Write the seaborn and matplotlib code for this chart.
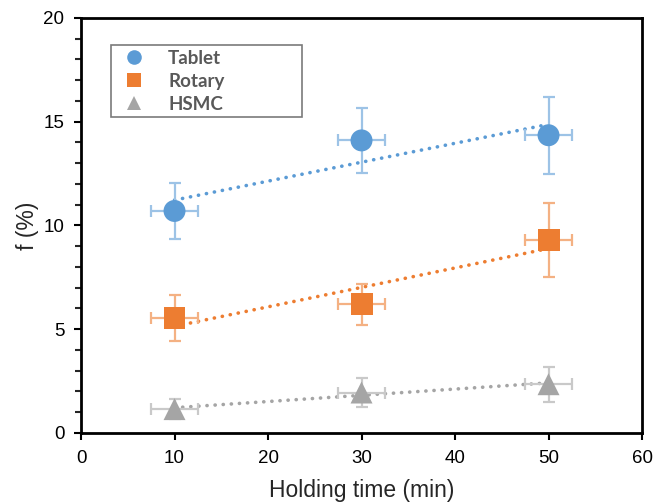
import numpy as np
import pandas as pd
import matplotlib
matplotlib.use("Agg")
import matplotlib.pyplot as plt
from matplotlib.ticker import MultipleLocator
from matplotlib.lines import Line2D
import seaborn as sns

# Holding time (min) and measured f (%) with standard deviations
holding_time = [10, 30, 50]
time_err = [2.5, 2.5, 2.5]

tablet = [10.7, 14.1, 14.35]
tablet_err = [1.35, 1.55, 1.85]
rotary = [5.55, 6.2, 9.3]
rotary_err = [1.1, 1.0, 1.8]
hsmc = [1.15, 1.95, 2.35]
hsmc_err = [0.5, 0.7, 0.85]

series_names = ["Tablet", "Rotary", "HSMC"]
series_colors = ["#5B9BD5", "#ED7D31", "#A5A5A5"]
err_colors = ["#9DC3E6", "#F4B183", "#C9C9C9"]
series_markers = ["o", "s", "^"]

sns.set_theme(style="ticks")
plt.rcParams["font.family"] = ["Liberation Sans", "DejaVu Sans"]

fig = plt.figure(figsize=(6.56, 5.04), dpi=100)
ax = fig.add_axes([0.1235, 0.1409, 0.9787 - 0.1235, 0.9643 - 0.1409])

values = [tablet, rotary, hsmc]
errors = [tablet_err, rotary_err, hsmc_err]

rows = []
for name, vals in zip(series_names, values):
    for t, v in zip(holding_time, vals):
        rows.append({"time": t, "f": v, "series": name})
df = pd.DataFrame(rows)

for name, vals, errs, col, ecol in zip(series_names, values, errors, series_colors, err_colors):
    sub = df[df["series"] == name]
    # linear trend line, round dots
    sns.regplot(data=sub, x="time", y="f", ax=ax, ci=None, scatter=False,
                truncate=True,
                line_kws=dict(color=col, ls=(0, (0.05, 2.2)), lw=2.6,
                              dash_capstyle="round", zorder=2))
    ax.errorbar(holding_time, vals, yerr=errs, xerr=time_err, fmt="none",
                ecolor=ecol, elinewidth=1.6, capsize=4, capthick=1.6, zorder=3)

sns.scatterplot(data=df, x="time", y="f", hue="series", style="series",
                hue_order=series_names, style_order=series_names,
                palette=series_colors, markers=series_markers, s=250,
                edgecolor="none", linewidth=0, legend=False, ax=ax, zorder=4)

ax.set_xlim(0, 60)
ax.set_ylim(0, 20)
ax.xaxis.set_major_locator(MultipleLocator(10))
ax.yaxis.set_major_locator(MultipleLocator(5))
ax.yaxis.set_minor_locator(MultipleLocator(1))
ax.tick_params(axis="both", which="major", direction="out", length=5, width=1.5,
               labelsize=13.5, colors="black", pad=7)
ax.tick_params(axis="y", which="minor", direction="out", length=4, width=1.5)
for sp in ax.spines.values():
    sp.set_visible(True)
    sp.set_linewidth(2)
    sp.set_color("black")

ax.set_xlabel("Holding time (min)", fontsize=16.5, labelpad=9)
ax.set_ylabel("f (%)", fontsize=16.5, labelpad=3)

handles = [Line2D([], [], ls="none", marker=m, color=c, markersize=10.5,
                  markeredgewidth=0)
           for m, c in zip(series_markers, series_colors)]
leg = ax.legend(handles, series_names, loc="upper left",
                bbox_to_anchor=(0.0535, 0.935 - 0.174, 0.34, 0.174),
                mode="expand", borderaxespad=0, frameon=True, fancybox=False,
                handletextpad=0.8, labelspacing=0.32, borderpad=0.25,
                prop={"family": "Lato", "weight": "bold", "size": 13.5})
leg.get_frame().set_edgecolor("#595959")
leg.get_frame().set_linewidth(1.2)
for txt in leg.get_texts():
    txt.set_color("#595959")

fig.savefig("out.png", dpi=100)
